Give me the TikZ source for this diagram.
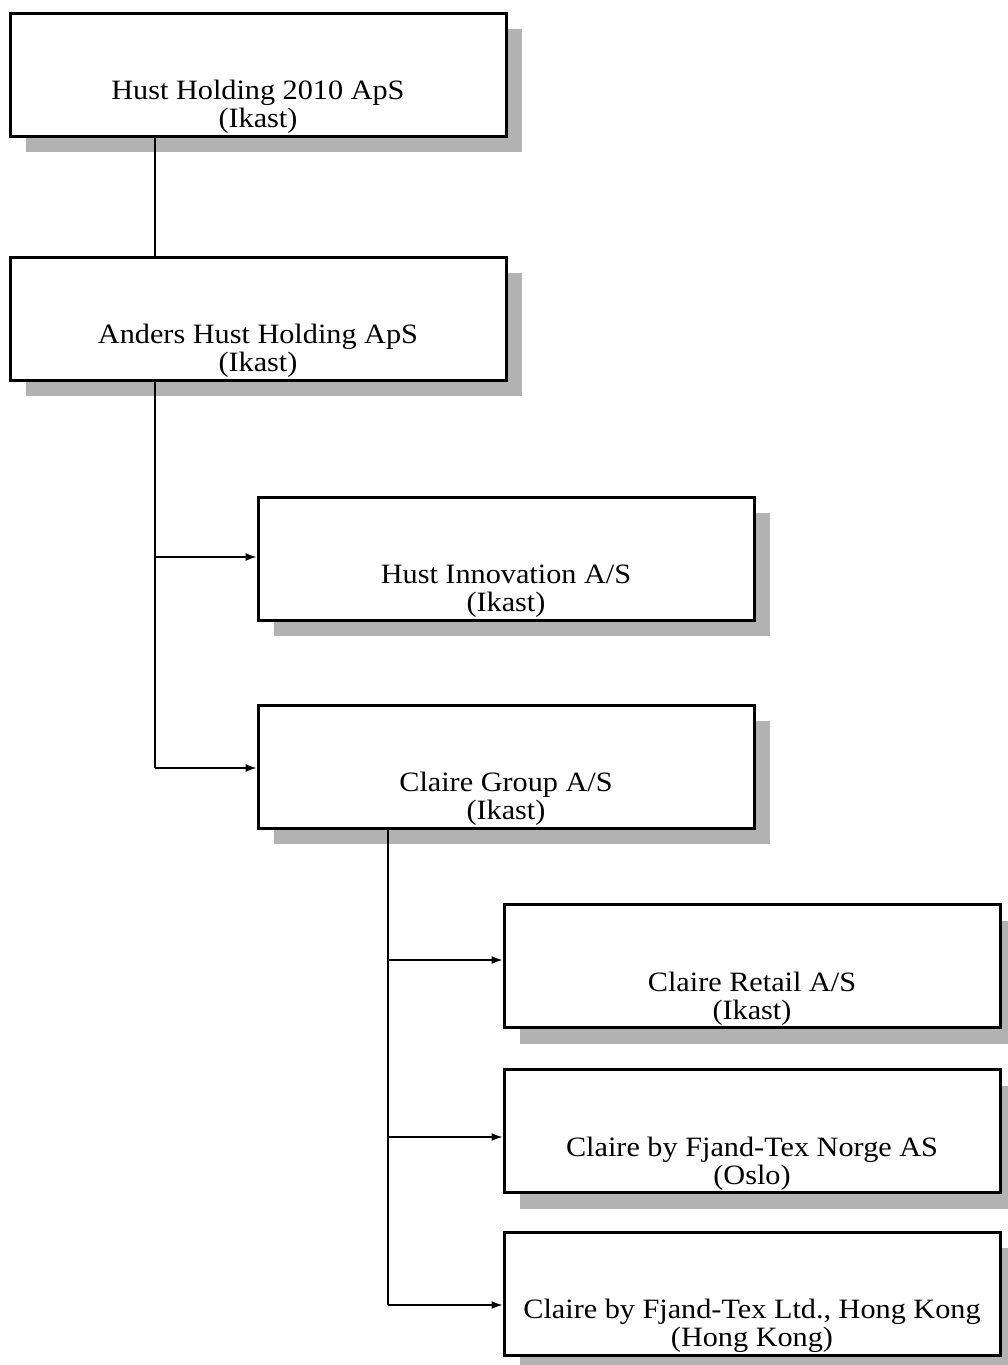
\documentclass[tikz,border=0pt]{standalone}
\usepackage{fontspec}
\setmainfont{Liberation Serif}[FakeStretch=1.08]
\usetikzlibrary{arrows.meta,shadows}
\newcommand\boxtext[1]{\raisebox{-40pt}[0pt][0pt]{\fontsize{28}{28}\selectfont\begin{tabular}{@{}c@{}}#1\end{tabular}}}
\begin{document}
\begin{tikzpicture}[x=1pt,y=-1pt,
  orgbox/.style={draw=black, line width=3pt, fill=white, minimum width=496pt, minimum height=123pt, inner sep=0pt,
    drop shadow={shadow xshift=16pt, shadow yshift=-16pt, fill=black!30, draw=none, opacity=1}},
  link/.style={line width=1.4pt},
  arr/.style={link, -{Latex[length=11pt,width=8pt]}}]
\fill[white] (0,0) rectangle (1008,1365);
\useasboundingbox (0,0) rectangle (1008,1365);

\node[orgbox] (b1) at (258,74.5)  {\boxtext{Hust Holding 2010 ApS\\(Ikast)}};
\node[orgbox] (b2) at (258,318.5) {\boxtext{Anders Hust Holding ApS\\(Ikast)}};
\node[orgbox] (b3) at (506,558.5) {\boxtext{Hust Innovation A/S\\(Ikast)}};
\node[orgbox] (b4) at (506,766.5) {\boxtext{Claire Group A/S\\(Ikast)}};
\node[orgbox] (b5) at (752,966)   {\boxtext{Claire Retail A/S\\(Ikast)}};
\node[orgbox] (b6) at (752,1131)  {\boxtext{Claire by Fjand-Tex Norge AS\\(Oslo)}};
\node[orgbox] (b7) at (752,1293.5){\boxtext{Claire by Fjand-Tex Ltd., Hong Kong\\(Hong Kong)}};

\coordinate (t1) at (155,0);
\coordinate (j3) at (155,557);
\coordinate (j4) at (155,768);
\coordinate (j5) at (388,960);
\coordinate (j6) at (388,1137);
\coordinate (j7) at (388,1305);

\draw[link] (t1 |- b1.south) -- (t1 |- b2.north);
\draw[link] (t1 |- b2.south) -- (j4);
\draw[arr] (j3) -- (j3 -| b3.west);
\draw[arr] (j4) -- (j4 -| b4.west);

\draw[link] (j5 |- b4.south) -- (j7);
\draw[arr] (j5) -- (j5 -| b5.west);
\draw[arr] (j6) -- (j6 -| b6.west);
\draw[arr] (j7) -- (j7 -| b7.west);
\end{tikzpicture}
\end{document}
